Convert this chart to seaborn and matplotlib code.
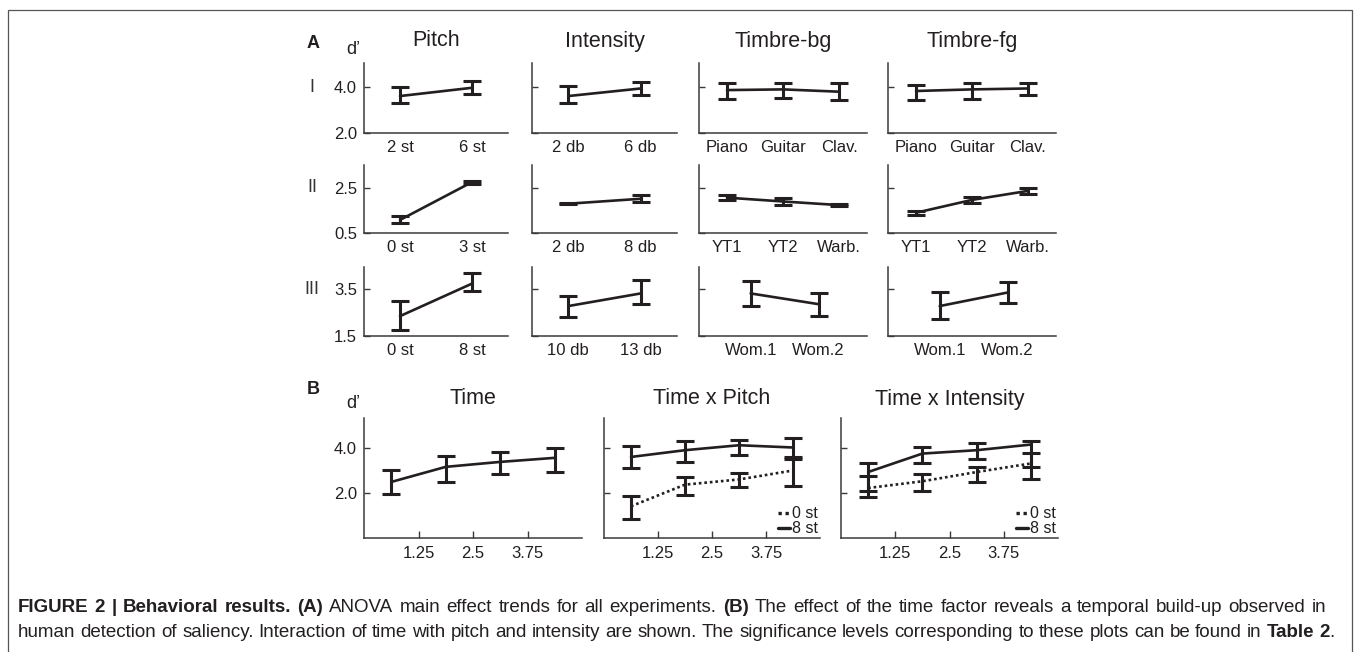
import re
import numpy as np
import matplotlib
matplotlib.use("Agg")
import matplotlib.pyplot as plt
import seaborn as sns
from matplotlib.lines import Line2D
from matplotlib.patches import Rectangle
from matplotlib.transforms import IdentityTransform

# ---------------- data ----------------
# Panel A, row I
pitch1_labels = ["2 st", "6 st"]
pitch1_mean = [3.61, 3.97]
pitch1_lo = [3.29, 3.70]
pitch1_hi = [4.01, 4.26]
inten1_labels = ["2 db", "6 db"]
inten1_mean = [3.61, 3.94]
inten1_lo = [3.32, 3.65]
inten1_hi = [4.04, 4.23]
tbg1_labels = ["Piano", "Guitar", "Clav."]
tbg1_mean = [3.87, 3.90, 3.80]
tbg1_lo = [3.50, 3.54, 3.43]
tbg1_hi = [4.19, 4.20, 4.19]
tfg1_labels = ["Piano", "Guitar", "Clav."]
tfg1_mean = [3.83, 3.90, 3.94]
tfg1_lo = [3.43, 3.50, 3.65]
tfg1_hi = [4.09, 4.20, 4.20]
# Panel A, row II
pitch2_labels = ["0 st", "3 st"]
pitch2_mean = [1.08, 2.76]
pitch2_lo = [0.93, 2.69]
pitch2_hi = [1.26, 2.83]
inten2_labels = ["2 db", "8 db"]
inten2_mean = [1.80, 2.02]
inten2_lo = [1.785, 1.89]
inten2_hi = [1.815, 2.20]
tbg2_labels = ["YT1", "YT2", "Warb."]
tbg2_mean = [2.07, 1.90, 1.74]
tbg2_lo = [1.96, 1.76, 1.70]
tbg2_hi = [2.20, 2.04, 1.79]
tfg2_labels = ["YT1", "YT2", "Warb."]
tfg2_mean = [1.40, 1.97, 2.37]
tfg2_lo = [1.31, 1.84, 2.24]
tfg2_hi = [1.49, 2.10, 2.50]
# Panel A, row III
pitch3_labels = ["0 st", "8 st"]
pitch3_mean = [2.35, 3.74]
pitch3_lo = [1.76, 3.41]
pitch3_hi = [2.99, 4.21]
inten3_labels = ["10 db", "13 db"]
inten3_mean = [2.78, 3.32]
inten3_lo = [2.32, 2.86]
inten3_hi = [3.22, 3.91]
tbg3_labels = ["Wom.1", "Wom.2"]
tbg3_mean = [3.32, 2.86]
tbg3_lo = [2.78, 2.37]
tbg3_hi = [3.84, 3.32]
tfg3_labels = ["Wom.1", "Wom.2"]
tfg3_mean = [2.78, 3.36]
tfg3_lo = [2.24, 2.92]
tfg3_hi = [3.36, 3.83]

# Panel B
time_x = [0.625, 1.875, 3.125, 4.375]
time_ticks = [1.25, 2.5, 3.75]
time_mean = [2.49, 3.16, 3.38, 3.56]
time_lo = [1.96, 2.49, 2.84, 2.93]
time_hi = [3.02, 3.64, 3.82, 4.00]
tp8_mean = [3.60, 3.90, 4.12, 4.02]
tp8_lo = [3.13, 3.38, 3.70, 3.60]
tp8_hi = [4.09, 4.30, 4.37, 4.44]
tp0_mean = [1.41, 2.37, 2.60, 3.00]
tp0_lo = [0.83, 1.90, 2.27, 2.31]
tp0_hi = [1.85, 2.71, 2.89, 3.50]
ti8_mean = [2.93, 3.75, 3.90, 4.15]
ti8_lo = [2.08, 3.31, 3.50, 3.16]
ti8_hi = [3.31, 4.04, 4.24, 4.30]
ti0_mean = [2.22, 2.52, 2.93, 3.31]
ti0_lo = [1.82, 2.08, 2.49, 2.64]
ti0_hi = [2.76, 2.83, 3.16, 3.78]
legend_labels = ["0 st", "8 st"]

col_titles_A = ["Pitch", "Intensity", "Timbre-bg", "Timbre-fg"]
row_labels_A = ["I", "II", "III"]
col_titles_B = ["Time", "Time x Pitch", "Time x Intensity"]

cap_line1 = [("FIGURE 2 | Behavioral results.", True), (" ", False), ("(A)", True),
             (" ANOVA main effect trends for all experiments. ", False), ("(B)", True),
             (" The effect of the time factor reveals a temporal build-up observed in", False)]
cap_line2 = [("human detection of saliency. Interaction of time with pitch and intensity are shown. "
              "The significance levels corresponding to these plots can be found in ", False),
             ("Table 2", True), (".", False)]

# ---------------- style ----------------
sns.set_style("ticks")
plt.rcParams['font.family'] = ['Liberation Sans', 'DejaVu Sans']
INK = '#231f20'
SPINE = '#3a3a3a'
TICK_FS = 12
TITLE_FS = 15.5

W, H = 1355, 652
fig = plt.figure(figsize=(W / 100, H / 100), dpi=100)
fig.patch.set_facecolor('white')


def add_ax(x0, y0, x1, y1):
    return fig.add_axes([x0 / W, 1 - y1 / H, (x1 - x0) / W, (y1 - y0) / H])


def style(ax, xlim, ylim, yticks, show_ylabels):
    ax.set_xlim(*xlim)
    ax.set_ylim(*ylim)
    ax.set_yticks(yticks)
    ax.set_yticklabels([f"{v:.1f}" for v in yticks] if show_ylabels else [])
    for s in ['top', 'right']:
        ax.spines[s].set_visible(False)
    for s in ['left', 'bottom']:
        ax.spines[s].set_linewidth(1.1)
        ax.spines[s].set_color(SPINE)
    ax.tick_params(axis='y', direction='in', length=4, width=1.0, color=SPINE,
                   labelsize=TICK_FS, pad=5, labelcolor=INK)
    ax.set_xlabel("")
    ax.set_ylabel("")
    ax.patch.set_alpha(0)


def draw_series(ax, x, mean, lo, hi, ls='-'):
    sns.lineplot(x=x, y=mean, ax=ax, color=INK, linewidth=1.9, linestyle=ls,
                 legend=False, errorbar=None)
    ax.errorbar(x, mean, yerr=[np.subtract(mean, lo), np.subtract(hi, mean)],
                fmt='none', ecolor=INK, elinewidth=2.2, capsize=6.8, capthick=2.2)


# ---------------- Panel A ----------------
rows_y = [(63, 133), (165, 233), (267, 336)]
cols_x = [(364, 508), (532, 677), (699, 867), (888, 1056)]
row_ylim = [(2.0, 5.05), (0.5, 3.52), (1.5, 4.45)]
row_yticks = [[2.0, 4.0], [0.5, 2.5], [1.5, 3.5]]

panelA = [
    [(pitch1_labels, pitch1_mean, pitch1_lo, pitch1_hi),
     (inten1_labels, inten1_mean, inten1_lo, inten1_hi),
     (tbg1_labels, tbg1_mean, tbg1_lo, tbg1_hi),
     (tfg1_labels, tfg1_mean, tfg1_lo, tfg1_hi)],
    [(pitch2_labels, pitch2_mean, pitch2_lo, pitch2_hi),
     (inten2_labels, inten2_mean, inten2_lo, inten2_hi),
     (tbg2_labels, tbg2_mean, tbg2_lo, tbg2_hi),
     (tfg2_labels, tfg2_mean, tfg2_lo, tfg2_hi)],
    [(pitch3_labels, pitch3_mean, pitch3_lo, pitch3_hi),
     (inten3_labels, inten3_mean, inten3_lo, inten3_hi),
     (tbg3_labels, tbg3_mean, tbg3_lo, tbg3_hi),
     (tfg3_labels, tfg3_mean, tfg3_lo, tfg3_hi)],
]

for r, (y0, y1) in enumerate(rows_y):
    for c, (x0, x1) in enumerate(cols_x):
        labels, mean, lo, hi = panelA[r][c]
        ax = add_ax(x0, y0, x1, y1)
        n = len(labels)
        if c >= 2 and n == 2:
            xlim = (-0.76, 1.71)
        else:
            xlim = (-0.5, n - 0.5)
        xs = list(range(n))
        draw_series(ax, xs, mean, lo, hi)
        style(ax, xlim, row_ylim[r], row_yticks[r], c == 0)
        ax.set_xticks(xs)
        ax.set_xticklabels(labels)
        ax.tick_params(axis='x', length=0, labelsize=TICK_FS, pad=5, labelcolor=INK)

for c, (x0, x1) in enumerate(cols_x):
    fig.text((x0 + x1) / 2 / W, 1 - 41 / H, col_titles_A[c], ha='center', va='center',
             fontsize=TITLE_FS, color=INK)
for r, (y0, y1) in enumerate(rows_y):
    yt = row_yticks[r][1]
    ylo, yhi = row_ylim[r]
    ypix = y1 - (yt - ylo) / (yhi - ylo) * (y1 - y0)
    fig.text(312 / W, 1 - ypix / H, row_labels_A[r], ha='center', va='center',
             fontsize=13, color='#333333')

fig.text(313 / W, 1 - 44 / H, "A", ha='center', va='center', fontsize=13,
         fontweight='bold', color=INK)
fig.text(353 / W, 1 - 50 / H, "d\u2019", ha='center', va='center', fontsize=13, color=INK)

# ---------------- Panel B ----------------
b_y = (418, 538)
b_cols = [(364, 582), (604, 820), (841, 1058)]
b_ylim = (0.0, 5.33)
b_yticks = [2.0, 4.0]

axes_B = []
for c, (x0, x1) in enumerate(b_cols):
    ax = add_ax(x0, b_y[0], x1, b_y[1])
    axes_B.append(ax)

DOT = (0, (1, 1.1))
draw_series(axes_B[0], time_x, time_mean, time_lo, time_hi)
draw_series(axes_B[1], time_x, tp0_mean, tp0_lo, tp0_hi, ls=DOT)
draw_series(axes_B[1], time_x, tp8_mean, tp8_lo, tp8_hi)
draw_series(axes_B[2], time_x, ti0_mean, ti0_lo, ti0_hi, ls=DOT)
draw_series(axes_B[2], time_x, ti8_mean, ti8_lo, ti8_hi)

for c, ax in enumerate(axes_B):
    style(ax, (0, 5), b_ylim, b_yticks, c == 0)
    ax.set_xticks(time_ticks)
    ax.set_xticklabels([f"{t:g}" for t in time_ticks])
    ax.tick_params(axis='x', direction='in', length=5, width=1.0, color=SPINE,
                   labelsize=TICK_FS, pad=6, labelcolor=INK)
    x0, x1 = b_cols[c]
    fig.text((x0 + x1) / 2 / W, 1 - 399 / H, col_titles_B[c], ha='center', va='center',
             fontsize=TITLE_FS, color=INK)
    if c > 0:
        handles = [Line2D([], [], color=INK, lw=2.4, ls=DOT),
                   Line2D([], [], color=INK, lw=2.4, ls='-')]
        ax.legend(handles, legend_labels, loc='lower right', frameon=False,
                  handlelength=0.75, handletextpad=0.15, labelspacing=0.0,
                  borderaxespad=0.05, borderpad=0.05, fontsize=11.5, labelcolor=INK)

fig.text(313 / W, 1 - 390 / H, "B", ha='center', va='center', fontsize=13,
         fontweight='bold', color=INK)
fig.text(353 / W, 1 - 403 / H, "d\u2019", ha='center', va='center', fontsize=13, color=INK)

# ---------------- border ----------------
fig.patches.append(Rectangle((8, -20), 1344, 652 - 10 + 20, transform=IdentityTransform(),
                             fill=False, edgecolor='#555555', linewidth=0.9))

# ---------------- caption ----------------
renderer = fig.canvas.get_renderer()


def tokens(segs):
    s = ''.join(t for t, _ in segs)
    mask = []
    for t, b in segs:
        mask += [b] * len(t)
    out = []
    for m in re.finditer(r'\S+', s):
        i0, i1 = m.start(), m.end()
        j = i0
        while j < i1:
            k = j
            while k < i1 and mask[k] == mask[j]:
                k += 1
            out.append((s[j:k], mask[j], (i0 > 0) if j == i0 else False))
            j = k
    return out


def make_texts(toks, fs):
    arts, widths = [], []
    for txt, b, sb in toks:
        t = fig.text(0, 0, txt, fontsize=fs, fontweight='bold' if b else 'normal',
                     color=INK, transform=IdentityTransform(), ha='left', va='baseline')
        arts.append(t)
        widths.append(t.get_window_extent(renderer).width)
    return arts, widths


def space_width(fs):
    a = fig.text(0, 0, "a a", fontsize=fs, transform=IdentityTransform())
    b = fig.text(0, 0, "aa", fontsize=fs, transform=IdentityTransform())
    w = a.get_window_extent(renderer).width - b.get_window_extent(renderer).width
    a.remove()
    b.remove()
    return w


def natural_width(segs, fs):
    toks = tokens(segs)
    arts, widths = make_texts(toks, fs)
    for a in arts:
        a.remove()
    return sum(widths) + space_width(fs) * sum(1 for t in toks if t[2])


def place_line(segs, x0, x1, ybase, fs):
    toks = tokens(segs)
    arts, widths = make_texts(toks, fs)
    nsp = sum(1 for t in toks if t[2])
    gap = (x1 - x0 - sum(widths)) / nsp
    x = x0
    for (txt, b, sb), t, w in zip(toks, arts, widths):
        if sb:
            x += gap
        t.set_position((x, H - ybase))
        x += w


fs0 = 10.0
fs1 = fs0 * (1326 - 18) / natural_width(cap_line1, fs0)
fs2 = fs0 * (1335 - 18) / natural_width(cap_line2, fs0)
fs = float(np.sqrt(fs1 * fs2))
place_line(cap_line1, 18, 1326, 612, fs)
place_line(cap_line2, 18, 1335, 637, fs)

fig.savefig("out.png", dpi=100)
